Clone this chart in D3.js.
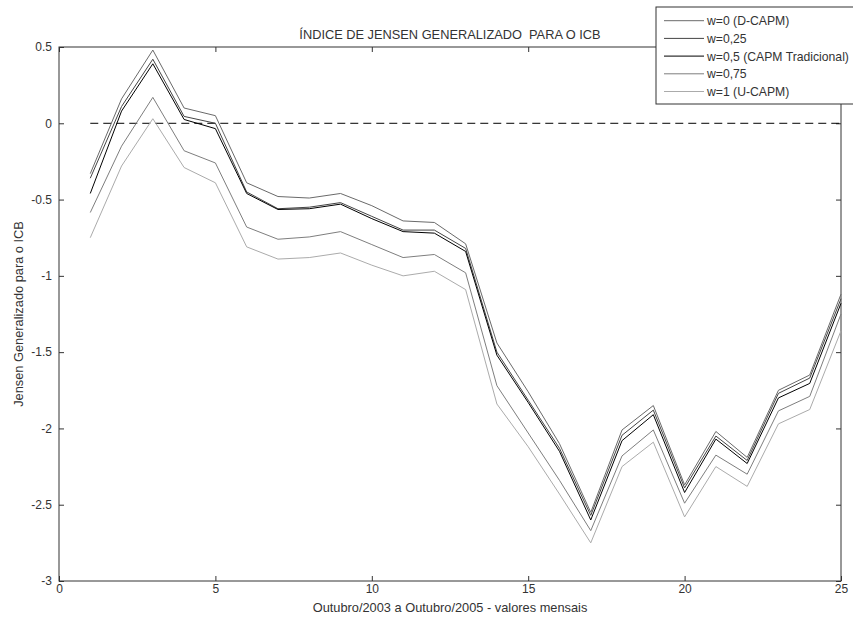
<!DOCTYPE html>
<html><head><meta charset="utf-8">
<script src="https://cdn.jsdelivr.net/npm/d3@7"></script>
<style>body{margin:0;background:#fff;} svg{display:block;font-family:Arial,"Liberation Sans",sans-serif;}</style>
</head><body>
<svg id="c" width="853" height="620"></svg>
<script>
const months = [1,2,3,4,5,6,7,8,9,10,11,12,13,14,15,16,17,18,19,20,21,22,23,24,25];
const w0   = [-0.33,0.16,0.48,0.10,0.05,-0.39,-0.48,-0.49,-0.46,-0.54,-0.64,-0.65,-0.79,-1.44,-1.76,-2.10,-2.55,-2.01,-1.85,-2.37,-2.02,-2.19,-1.75,-1.65,-1.12];
const w025 = [-0.36,0.11,0.42,0.045,0.00,-0.45,-0.56,-0.55,-0.52,-0.61,-0.70,-0.70,-0.82,-1.50,-1.815,-2.13,-2.57,-2.045,-1.88,-2.39,-2.05,-2.21,-1.77,-1.67,-1.15];
const w05  = [-0.46,0.08,0.39,0.025,-0.035,-0.46,-0.565,-0.56,-0.53,-0.625,-0.71,-0.72,-0.84,-1.52,-1.83,-2.15,-2.60,-2.08,-1.91,-2.42,-2.07,-2.23,-1.80,-1.705,-1.18];
const w075 = [-0.585,-0.15,0.17,-0.18,-0.26,-0.68,-0.76,-0.745,-0.71,-0.795,-0.88,-0.86,-0.98,-1.72,-2.03,-2.34,-2.67,-2.18,-2.01,-2.49,-2.175,-2.30,-1.885,-1.79,-1.25];
const w1   = [-0.75,-0.28,0.03,-0.29,-0.39,-0.81,-0.89,-0.88,-0.85,-0.93,-1.00,-0.97,-1.09,-1.84,-2.12,-2.43,-2.75,-2.25,-2.09,-2.58,-2.25,-2.38,-1.97,-1.876,-1.36];
const seriesNames = ["w=0 (D-CAPM)","w=0,25","w=0,5 (CAPM Tradicional)","w=0,75","w=1 (U-CAPM)"];
const seriesColors = ["#6a6a6a","#444444","#000000","#7e7e7e","#ababab"];
const xTicks = [0,5,10,15,20,25];
const yTicks = [0.5,0,-0.5,-1,-1.5,-2,-2.5,-3];
const title = "ÍNDICE DE JENSEN GENERALIZADO  PARA O ICB";
const xLabel = "Outubro/2003 a Outubro/2005 - valores mensais";
const yLabel = "Jensen Generalizado para o ICB";

const seriesData = [w0,w025,w05,w075,w1];
const svg = d3.select("#c");
const L=59,R=841,T=47,B=581;
const x = d3.scaleLinear().domain([0,25]).range([L,R]);
const y = d3.scaleLinear().domain([-3,0.5]).range([B,T]);
const axisCol = "#333";
const txtCol = "#333";

const fmt = d => String(d);
svg.append("g").attr("transform",`translate(0,${B})`)
  .call(d3.axisBottom(x).tickValues(xTicks).tickSize(-5).tickPadding(3).tickFormat(fmt))
  .call(g=>{g.select(".domain").remove();});
svg.append("g").attr("transform",`translate(0,${T})`)
  .call(d3.axisTop(x).tickValues(xTicks).tickSize(-5).tickFormat(""))
  .call(g=>{g.select(".domain").remove();});
svg.append("g").attr("transform",`translate(${L},0)`)
  .call(d3.axisLeft(y).tickValues(yTicks).tickSize(-5).tickPadding(7).tickFormat(fmt))
  .call(g=>{g.select(".domain").remove();});
svg.append("g").attr("transform",`translate(${R},0)`)
  .call(d3.axisRight(y).tickValues(yTicks).tickSize(-5).tickFormat(""))
  .call(g=>{g.select(".domain").remove();});
svg.selectAll(".tick line").attr("stroke",axisCol);
svg.selectAll(".tick text").attr("fill",txtCol).style("font-size","12px").style("font-family","Arial,'Liberation Sans',sans-serif");
svg.append("rect").attr("x",L).attr("y",T).attr("width",R-L).attr("height",B-T)
  .attr("fill","none").attr("stroke",axisCol).attr("stroke-width",1);

svg.append("line").attr("x1",x(1)).attr("x2",x(25)).attr("y1",y(0)).attr("y2",y(0))
  .attr("stroke","#000").attr("stroke-dasharray","8,5").attr("stroke-width",1);

const line = d3.line().x((d,i)=>x(months[i])).y(d=>y(d));
const order = [4,3,1,0,2];
order.forEach(k=>{
  svg.append("path").datum(seriesData[k]).attr("d",line)
    .attr("fill","none").attr("stroke",seriesColors[k]).attr("stroke-width",1);
});

svg.append("text").attr("x",(L+R)/2).attr("y",39).attr("text-anchor","middle")
  .attr("fill",txtCol).style("font-size","12.8px").style("white-space","pre").attr("xml:space","preserve").text(title);
svg.append("text").attr("x",(L+R)/2).attr("y",612).attr("text-anchor","middle")
  .attr("fill",txtCol).style("font-size","12.8px").text(xLabel);
svg.append("text").attr("transform",`translate(23,${(T+B)/2}) rotate(-90)`).attr("text-anchor","middle")
  .attr("fill",txtCol).style("font-size","12.8px").text(yLabel);

const lg = svg.append("g");
lg.append("rect").attr("x",656).attr("y",7).attr("width",210).attr("height",97)
  .attr("fill","#fff").attr("stroke",axisCol);
seriesNames.forEach((n,i)=>{
  const yy = 20.7 + i*17.7;
  lg.append("line").attr("x1",664).attr("x2",704).attr("y1",yy).attr("y2",yy)
    .attr("stroke",seriesColors[i]).attr("stroke-width",1);
  lg.append("text").attr("x",707).attr("y",yy+4.5).attr("fill",txtCol)
    .style("font-size","12.2px").text(n);
});
</script>
</body></html>
